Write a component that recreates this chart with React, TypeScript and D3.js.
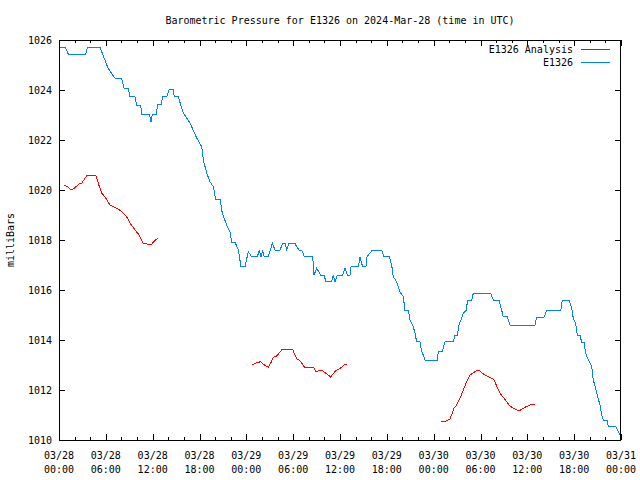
import React from "react";
import * as d3 from "d3";

const TITLE = "Barometric Pressure for E1326 on 2024-Mar-28 (time in UTC)";
const Y_LABEL = "milliBars";
const SERIES_NAMES = ["E1326 Analysis", "E1326"];

// hours since 03/28 00:00 UTC
const tickHours = [0, 6, 12, 18, 24, 30, 36, 42, 48, 54, 60, 66, 72];
const tickDates = ["03/28", "03/28", "03/28", "03/28", "03/29", "03/29", "03/29", "03/29", "03/30", "03/30", "03/30", "03/30", "03/31"];
const tickTimes = ["00:00", "06:00", "12:00", "18:00", "00:00", "06:00", "12:00", "18:00", "00:00", "06:00", "12:00", "18:00", "00:00"];
const yTicks = [1010, 1012, 1014, 1016, 1018, 1020, 1022, 1024, 1026];

const stationHours = [
  0, 0.77, 1.19, 3.42, 3.63, 5.25, 6.28, 7.17, 8.03, 8.33, 8.88, 9.1, 9.74, 9.95, 10.47, 10.59, 11.57, 11.79, 11.95, 12.52,
  12.59, 13.16, 13.23, 13.8, 14.13, 14.64, 14.77, 15.28, 15.92, 16.78, 17.64, 18.28, 18.49, 18.92, 19.34, 19.77, 20.07, 20.63, 20.92, 21.48,
  21.91, 22.12, 22.55, 22.97, 23.32, 23.83, 24.25, 24.69, 25.4, 25.66, 25.88, 26.1, 26.3, 26.81, 27.33, 27.67, 28.31, 28.66, 28.95, 29.17,
  29.46, 30.23, 30.45, 30.78, 31.09, 31.43, 32.5, 32.67, 33.01, 33.53, 33.95, 34.2, 34.93, 35.14, 35.36, 35.65, 36.34, 36.64, 36.93, 37.28,
  37.41, 38.34, 38.56, 38.9, 39.33, 39.42, 40.14, 41.34, 41.64, 42.31, 42.62, 42.83, 43.26, 43.68, 44.11, 44.32, 44.75, 44.97, 45.39, 45.61,
  45.82, 46.25, 46.47, 46.67, 46.89, 48.46, 48.59, 49.1, 49.45, 50.51, 50.73, 51.03, 51.28, 51.59, 51.79, 52.23, 52.31, 52.87, 53.08, 55.3,
  55.64, 56.37, 56.71, 56.92, 57.43, 57.78, 60.98, 61.2, 62.13, 62.48, 64.27, 64.48, 65.37, 65.68, 65.89, 66.19, 66.4, 66.74, 66.96, 67.26,
  67.47, 67.81, 68.24, 68.45, 68.76, 69.01, 69.31, 69.52, 69.73, 70.24, 70.37, 71.36, 71.65, 71.87,
];
const stationPressure = [
  1025.71, 1025.71, 1025.44, 1025.44, 1025.71, 1025.71, 1024.88, 1024.47, 1024.47, 1024.07, 1024.07, 1023.73, 1023.73, 1023.4, 1023.4, 1023.04, 1023.04, 1022.73, 1023.04, 1023.04,
  1023.44, 1023.44, 1023.73, 1023.73, 1024.04, 1024.04, 1023.73, 1023.73, 1023.08, 1022.68, 1022.08, 1021.73, 1021.2, 1020.68, 1020.33, 1020.13, 1019.64, 1019.64, 1019.07, 1018.6,
  1018.33, 1017.91, 1017.91, 1017.6, 1016.93, 1016.93, 1017.53, 1017.33, 1017.33, 1017.57, 1017.33, 1017.57, 1017.33, 1017.33, 1017.87, 1017.6, 1017.6, 1017.87, 1017.87, 1017.6,
  1017.87, 1017.87, 1017.73, 1017.6, 1017.6, 1017.33, 1017.33, 1016.6, 1016.87, 1016.6, 1016.6, 1016.33, 1016.33, 1016.6, 1016.33, 1016.6, 1016.6, 1016.87, 1016.6, 1016.6,
  1016.93, 1016.93, 1017.31, 1016.93, 1016.93, 1017.31, 1017.6, 1017.6, 1017.33, 1017.33, 1017.0, 1016.53, 1016.33, 1015.93, 1015.73, 1015.2, 1015.2, 1014.8, 1014.53, 1014.27,
  1013.93, 1013.93, 1013.53, 1013.4, 1013.2, 1013.2, 1013.53, 1013.53, 1013.93, 1013.93, 1014.2, 1014.2, 1014.67, 1014.87, 1015.07, 1015.2, 1015.6, 1015.6, 1015.87, 1015.87,
  1015.6, 1015.6, 1015.2, 1014.93, 1014.93, 1014.6, 1014.6, 1014.91, 1014.91, 1015.17, 1015.17, 1015.57, 1015.57, 1015.27, 1014.87, 1014.67, 1014.2, 1014.2, 1013.91, 1013.91,
  1013.47, 1013.2, 1012.96, 1012.4, 1012.07, 1011.73, 1011.4, 1011.0, 1010.8, 1010.8, 1010.53, 1010.53, 1010.33, 1010.2,
];

// analysis: null marks a gap between runs
const analysisHours = [
  0.68, 1.11, 1.41, 1.83, 2.27, 2.69, 2.91, 3.33, 3.63, 4.7, 5.03, 5.47, 5.89, 6.53, 6.96, 7.6, 8.03, 8.67, 9.1, 9.74, 10.16, 10.8, 11.36, 11.79, 12.21, 12.64,
  null,
  24.81, 25.11, 25.53, 25.84, 26.17, 26.52, 26.81, 27.12, 27.45, 27.89, 28.22, 28.61, 29.94, 30.23, 30.53, 30.87, 31.17, 31.51, 32.67, 32.92, 33.22, 33.78, 34.2, 34.5, 34.81, 35.06, 35.45, 35.78, 36.22, 36.51, 36.86,
  null,
  48.9, 49.58, 50.09, 50.6, 50.86, 51.15, 51.46, 51.79, 52.23, 52.65, 53.08, 53.51, 53.84, 54.15, 54.57, 55.0, 55.43, 55.73, 56.07, 56.5, 56.92, 57.35, 57.78, 58.2, 58.9, 59.7, 60.34, 60.98,
];
const analysisPressure = [
  1020.2, 1020.13, 1020.04, 1020.04, 1020.16, 1020.27, 1020.27, 1020.47, 1020.6, 1020.6, 1020.27, 1019.87, 1019.73, 1019.4, 1019.33, 1019.23, 1019.13, 1018.93, 1018.67, 1018.4, 1018.24, 1017.87, 1017.83, 1017.8, 1017.96, 1018.07,
  null,
  1013.0, 1013.07, 1013.11, 1013.13, 1013.04, 1012.96, 1012.91, 1013.07, 1013.31, 1013.36, 1013.49, 1013.63, 1013.63, 1013.4, 1013.23, 1013.17, 1013.04, 1012.89, 1012.89, 1012.73, 1012.77, 1012.77, 1012.67, 1012.6, 1012.51, 1012.63, 1012.77, 1012.83, 1012.91, 1013.0, 1013.01,
  null,
  1010.73, 1010.76, 1010.83, 1011.27, 1011.36, 1011.53, 1011.73, 1012.0, 1012.33, 1012.6, 1012.69, 1012.77, 1012.8, 1012.69, 1012.6, 1012.53, 1012.47, 1012.4, 1012.16, 1011.87, 1011.71, 1011.53, 1011.36, 1011.27, 1011.16, 1011.31, 1011.4, 1011.44,
];

const W = 640;
const H = 480;
const left = 59;
const right = 621;
const top = 40;
const bottom = 440;
const FONT = "'DejaVu Sans Mono', 'Liberation Mono', monospace";
const BLUE = "#0080ff";
const RED = "#ff0000";

export default function App() {
  const x = d3.scaleLinear().domain([0, 72]).range([left, right]);
  const y = d3.scaleLinear().domain([1010, 1026]).range([bottom, top]);

  type P = [number | null, number | null];
  const line = d3
    .line<P>()
    .defined((d) => d[0] != null && d[1] != null)
    .x((d) => x(d[0] as number))
    .y((d) => y(d[1] as number));

  const station: P[] = stationHours.map((h, i) => [h, stationPressure[i]]);
  const analysis: P[] = analysisHours.map((h, i) => [h, analysisPressure[i]]);

  const minorHours = d3.range(0, 73, 2).filter((h) => h % 6 !== 0);
  const MAJ = 6;
  const MIN = 3;

  return (
    <svg width={W} height={H} style={{ display: "block", position: "absolute", left: 0, top: 0, background: "#fff" }}>
      <rect x={0} y={0} width={W} height={H} fill="#fff" />
      <text x={340} y={24} textAnchor="middle" fontFamily={FONT} fontSize={10} fill="#000">
        {TITLE}
      </text>
      <text
        transform={`translate(14,240) rotate(-90)`}
        textAnchor="middle"
        fontFamily={FONT}
        fontSize={10}
        fill="#000"
      >
        {Y_LABEL}
      </text>

      <g shapeRendering="crispEdges" stroke="#000" strokeWidth={1}>
        {yTicks.map((v) => (
          <g key={"y" + v}>
            <line x1={left} x2={left + MAJ} y1={Math.round(y(v)) + 0.5} y2={Math.round(y(v)) + 0.5} />
            <line x1={right - MAJ} x2={right} y1={Math.round(y(v)) + 0.5} y2={Math.round(y(v)) + 0.5} />
          </g>
        ))}
        {tickHours.map((h) => (
          <g key={"x" + h}>
            <line x1={Math.round(x(h)) + 0.5} x2={Math.round(x(h)) + 0.5} y1={bottom} y2={bottom - MAJ} />
            <line x1={Math.round(x(h)) + 0.5} x2={Math.round(x(h)) + 0.5} y1={top} y2={top + MAJ} />
          </g>
        ))}
        {minorHours.map((h) => (
          <g key={"m" + h}>
            <line x1={Math.round(x(h)) + 0.5} x2={Math.round(x(h)) + 0.5} y1={bottom} y2={bottom - MIN} />
            <line x1={Math.round(x(h)) + 0.5} x2={Math.round(x(h)) + 0.5} y1={top} y2={top + MIN} />
          </g>
        ))}
      </g>

      {yTicks.map((v) => (
        <text key={"yl" + v} x={52} y={y(v) + 3.5} textAnchor="end" fontFamily={FONT} fontSize={10} fill="#000">
          {v}
        </text>
      ))}
      {tickHours.map((h, i) => (
        <g key={"xl" + h}>
          <text x={x(h)} y={459} textAnchor="middle" fontFamily={FONT} fontSize={10} fill="#000">
            {tickDates[i]}
          </text>
          <text x={x(h)} y={473} textAnchor="middle" fontFamily={FONT} fontSize={10} fill="#000">
            {tickTimes[i]}
          </text>
        </g>
      ))}

      <path d={line(analysis) || ""} fill="none" stroke={RED} strokeWidth={1} shapeRendering="crispEdges" />
      <path d={line(station) || ""} fill="none" stroke={BLUE} strokeWidth={1} shapeRendering="crispEdges" />

      <rect
        x={left + 0.5}
        y={top + 0.5}
        width={right - left - 1}
        height={bottom - top}
        fill="none"
        stroke="#000"
        strokeWidth={1}
        shapeRendering="crispEdges"
      />

      <text x={573} y={53} textAnchor="end" fontFamily={FONT} fontSize={10} fill="#000">
        {SERIES_NAMES[0]}
      </text>
      <line x1={581} x2={610} y1={49.5} y2={49.5} stroke={RED} strokeWidth={1} shapeRendering="crispEdges" />
      <text x={573} y={66} textAnchor="end" fontFamily={FONT} fontSize={10} fill="#000">
        {SERIES_NAMES[1]}
      </text>
      <line x1={581} x2={610} y1={62.5} y2={62.5} stroke={BLUE} strokeWidth={1} shapeRendering="crispEdges" />
    </svg>
  );
}
